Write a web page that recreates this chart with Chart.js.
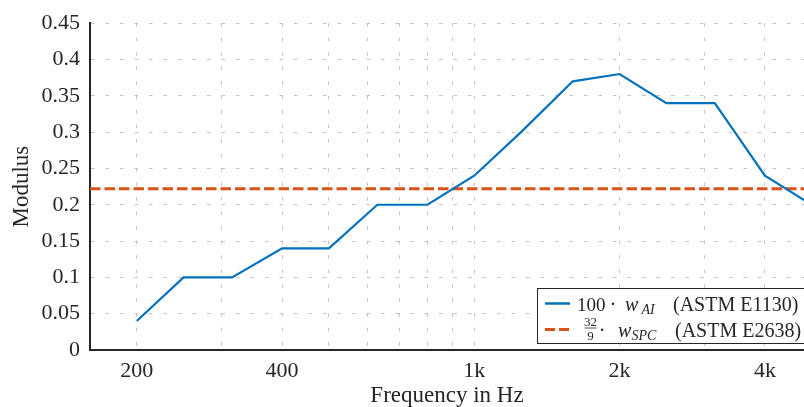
<!DOCTYPE html>
<html>
<head>
<meta charset="utf-8">
<script src="https://cdn.jsdelivr.net/npm/chart.js@4.4.1/dist/chart.umd.min.js"></script>
<style>
  html, body { margin: 0; padding: 0; background: #fff; }
  #wrap { width: 804px; height: 407px; }
</style>
</head>
<body>
<div id="wrap"><canvas id="modChart"></canvas></div>
<script>
// 1/3 octave band centre frequencies (Hz)
const freqs = [200, 250, 315, 400, 500, 630, 800, 1000, 1250, 1600, 2000, 2500, 3150, 4000, 5000];
// 100 * w_AI  (ASTM E1130)
const wAI = [0.04, 0.10, 0.10, 0.14, 0.14, 0.20, 0.20, 0.24, 0.30, 0.37, 0.38, 0.34, 0.34, 0.24, 0.20];
// 32/9 * w_SPC  (ASTM E2638), flat over frequency
const wSPC = 0.222;

const xLimits = [160, 4820];
const xGrid = [200, 300, 400, 500, 600, 700, 800, 900, 1000, 2000, 3000, 4000];
const xTickLabels = { 200: "200", 400: "400", 1000: "1k", 2000: "2k", 4000: "4k" };
const yLimits = [0, 0.45];
const yStep = 0.05;

const SERIF = "'Liberation Serif', 'DejaVu Serif', serif";
const BLUE = "#0072BD";
const RED = "#D95319";
const AXIS = "#262626";
const GRID = "#c2c2c2";

// legend drawn by hand, the fraction and subscripts need it
const legendBox = {
  id: "legendBox",
  afterDraw(chart) {
    const ctx = chart.ctx;
    const a = chart.chartArea;
    const L = a.right - 266.5;
    const T = a.bottom - 61.5;
    const B = a.bottom - 6.5;
    ctx.save();
    ctx.fillStyle = "#fff";
    ctx.fillRect(L, T, a.right + 5 - L, B - T);
    ctx.strokeStyle = AXIS;
    ctx.lineWidth = 1;
    ctx.strokeRect(L, T, a.right + 5 - L, B - T);

    const y1 = T + 15, y2 = T + 41;
    // samples
    ctx.lineWidth = 2.5;
    ctx.strokeStyle = BLUE;
    ctx.beginPath(); ctx.moveTo(L + 7.5, y1); ctx.lineTo(L + 32.5, y1); ctx.stroke();
    ctx.strokeStyle = RED;
    ctx.lineWidth = 3;
    ctx.setLineDash([10, 4]);
    ctx.beginPath(); ctx.moveTo(L + 7.5, y2); ctx.lineTo(L + 32.5, y2); ctx.stroke();
    ctx.setLineDash([]);

    ctx.fillStyle = AXIS;
    ctx.textBaseline = "alphabetic";
    ctx.textAlign = "left";
    const big = "20px " + SERIF, it = "italic 20px " + SERIF, sub = "italic 14px " + SERIF;
    // row 1
    ctx.font = "19px " + SERIF; ctx.fillText("100", L + 39.5, y1 + 7);
    ctx.font = big;
    ctx.textAlign = "center"; ctx.fillText("\u00b7", L + 75.5, y1 + 7);
    ctx.textAlign = "left";
    ctx.font = it; ctx.fillText("w", L + 87.5, y1 + 7);
    ctx.font = sub; ctx.fillText("AI", L + 104, y1 + 10);
    ctx.font = big; ctx.fillText("(ASTM E1130)", L + 135.5, y1 + 7);
    // row 2
    ctx.textAlign = "center";
    ctx.font = "13px " + SERIF;
    ctx.fillText("32", L + 53, y2 - 4);
    ctx.fillText("9", L + 53, y2 + 10);
    ctx.lineWidth = 0.8; ctx.strokeStyle = AXIS;
    ctx.beginPath(); ctx.moveTo(L + 47, y2 - 1.5); ctx.lineTo(L + 59, y2 - 1.5); ctx.stroke();
    ctx.font = big; ctx.fillText("\u00b7", L + 64.5, y2 + 7);
    ctx.textAlign = "left";
    ctx.font = it; ctx.fillText("w", L + 80.5, y2 + 7);
    ctx.font = sub; ctx.fillText("SPC", L + 94, y2 + 10);
    ctx.font = big; ctx.fillText("(ASTM E2638)", L + 137.5, y2 + 7);
    ctx.restore();
  }
};

new Chart(document.getElementById("modChart"), {
  type: "line",
  data: {
    datasets: [
      {
        label: "100 \u00b7 wAI (ASTM E1130)",
        data: freqs.map((f, i) => ({ x: f, y: wAI[i] })),
        borderColor: BLUE,
        borderWidth: 2.2,
        pointRadius: 0,
        tension: 0,
      },
      {
        label: "32/9 \u00b7 wSPC (ASTM E2638)",
        data: xLimits.map((f) => ({ x: f, y: wSPC })),
        borderColor: RED,
        borderWidth: 3,
        borderDash: [10.5, 4],
        pointRadius: 0,
      },
    ],
  },
  options: {
    responsive: true,
    maintainAspectRatio: false,
    animation: false,
    layout: { padding: { top: 19, right: 0, left: 0, bottom: 0 } },
    plugins: { legend: { display: false }, tooltip: { enabled: false } },
    scales: {
      x: {
        type: "logarithmic",
        min: xLimits[0],
        max: xLimits[1],
        afterBuildTicks: (scale) => {
          scale.ticks = xGrid.map((v) => ({ value: v }));
        },
        afterFit: (scale) => { scale.height = 57; },
        ticks: {
          autoSkip: false,
          maxRotation: 0,
          padding: 8,
          color: AXIS,
          font: { family: SERIF, size: 22 },
          callback: (v) => xTickLabels[v] || "",
        },
        grid: { color: GRID, lineWidth: 1, drawTicks: false },
        border: { display: true, color: AXIS, width: 2, dash: [3.5, 11] },
        title: {
          display: true,
          text: "Frequency in Hz",
          color: AXIS,
          font: { family: SERIF, size: 23 },
          padding: { top: 0, bottom: -3 },
        },
      },
      y: {
        min: yLimits[0],
        max: yLimits[1],
        afterFit: (scale) => { scale.width = 90; },
        ticks: {
          stepSize: yStep,
          padding: 10,
          color: AXIS,
          font: { family: SERIF, size: 22 },
          callback: (v) => String(+v.toFixed(2)),
        },
        grid: { color: GRID, lineWidth: 1, drawTicks: false },
        border: { display: true, color: AXIS, width: 2, dash: [3.5, 11] },
        title: {
          display: true,
          text: "Modulus",
          color: AXIS,
          font: { family: SERIF, size: 23 },
          padding: { top: 8, bottom: 0 },
        },
      },
    },
  },
  plugins: [legendBox],
});
</script>
</body>
</html>
